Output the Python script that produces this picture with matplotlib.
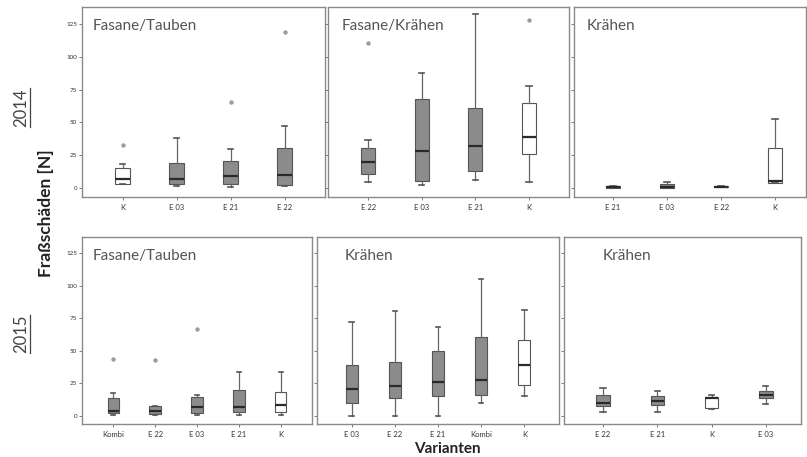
import matplotlib.pyplot as plt
from matplotlib.lines import Line2D

plt.rcParams['font.family'] = ['Lato', 'DejaVu Sans']

# 2014 - Fasane/Tauben
lab_14a = ['K', 'E 03', 'E 21', 'E 22']
lo_14a = [3.3, 1.5, 0.3, 1.5]
q1_14a = [3.3, 3.3, 2.8, 2.0]
med_14a = [7.0, 6.6, 8.9, 9.7]
q3_14a = [15.3, 18.6, 20.4, 30.6]
hi_14a = [17.9, 37.8, 29.6, 47.2]
out_14a = [[32.7], [], [65.3], [118.6]]

# 2014 - Fasane/Krähen
lab_14b = ['E 22', 'E 03', 'E 21', 'K']
lo_14b = [4.1, 2.3, 6.1, 4.1]
q1_14b = [10.5, 5.4, 12.5, 25.5]
med_14b = [19.4, 28.3, 32.1, 38.8]
q3_14b = [30.4, 67.6, 60.7, 64.5]
hi_14b = [36.5, 87.5, 132.4, 78.0]
out_14b = [[110.5], [], [], [128.3]]

# 2014 - Krähen
lab_14c = ['E 21', 'E 03', 'E 22', 'K']
lo_14c = [0.0, 0.0, 0.3, 3.6]
q1_14c = [0.2, 0.0, 0.5, 3.6]
med_14c = [0.7, 1.0, 0.9, 5.4]
q3_14c = [1.2, 2.7, 1.4, 30.6]
hi_14c = [1.4, 4.2, 1.6, 52.5]
out_14c = [[], [], [], []]

# 2015 - Fasane/Tauben
lab_15a = ['Kombi', 'E 22', 'E 03', 'E 21', 'K']
lo_15a = [0.8, 0.8, 0.8, 0.5, 0.8]
q1_15a = [1.8, 1.3, 2.0, 3.1, 2.6]
med_15a = [3.3, 3.3, 6.9, 6.4, 8.2]
q3_15a = [13.5, 7.1, 14.5, 19.6, 17.9]
hi_15a = [17.0, 7.7, 16.0, 33.2, 33.2]
out_15a = [[43.4], [42.6], [66.8], [], []]

# 2015 - Krähen
lab_15b = ['E 03', 'E 22', 'E 21', 'Kombi', 'K']
lo_15b = [0.0, 0.0, 0.0, 9.7, 14.9]
q1_15b = [9.5, 13.3, 14.9, 16.2, 23.6]
med_15b = [20.5, 23.1, 25.6, 27.7, 39.0]
q3_15b = [39.2, 41.5, 50.0, 60.8, 58.2]
hi_15b = [72.3, 80.8, 67.9, 105.0, 81.5]
out_15b = [[], [], [], [], []]

# 2015 - Krähen
lab_15c = ['E 22', 'E 21', 'K', 'E 03']
lo_15c = [2.6, 2.6, 5.1, 8.9]
q1_15c = [7.1, 8.4, 5.9, 13.5]
med_15c = [9.7, 11.5, 13.8, 16.0]
q3_15c = [15.8, 15.3, 14.0, 18.6]
hi_15c = [20.9, 18.6, 15.8, 23.0]
out_15c = [[], [], [], []]

panels = [
    ('Fasane/Tauben', lab_14a, lo_14a, q1_14a, med_14a, q3_14a, hi_14a, out_14a),
    ('Fasane/Krähen', lab_14b, lo_14b, q1_14b, med_14b, q3_14b, hi_14b, out_14b),
    ('Krähen', lab_14c, lo_14c, q1_14c, med_14c, q3_14c, hi_14c, out_14c),
    ('Fasane/Tauben', lab_15a, lo_15a, q1_15a, med_15a, q3_15a, hi_15a, out_15a),
    ('Krähen', lab_15b, lo_15b, q1_15b, med_15b, q3_15b, hi_15b, out_15b),
    ('Krähen', lab_15c, lo_15c, q1_15c, med_15c, q3_15c, hi_15c, out_15c),
]

W, H = 807, 457
fig = plt.figure(figsize=(W / 100, H / 100), dpi=100)

# panel frames in pixels: left, top, right, bottom
boxes_px = [
    (82, 7, 325, 197), (328, 7, 569, 197), (574, 7, 806, 197),
    (82, 237, 312, 424), (317, 237, 559, 424), (564, 237, 801, 424),
]
title_x = [0.045, 0.055, 0.055, 0.045, 0.115, 0.165]
xlims = [(0.25, 4.75), (0.25, 4.75), (0.28, 4.57),
         (0.25, 5.75), (0.2, 5.8), (0.28, 4.65)]
widths = [0.26, 0.26, 0.26, 0.28, 0.28, 0.25]

for i, (title, lab, lo, q1, med, q3, hi, out) in enumerate(panels):
    l, t, r, b = boxes_px[i]
    ax = fig.add_axes([l / W, 1 - b / H, (r - l) / W, (b - t) / H])
    stats = []
    for j in range(len(lab)):
        stats.append(dict(label=lab[j], whislo=lo[j], q1=q1[j], med=med[j],
                          q3=q3[j], whishi=hi[j], fliers=out[j]))
    bp = ax.bxp(stats, widths=widths[i], capwidths=0.1, patch_artist=True,
                boxprops=dict(edgecolor='#555555', linewidth=0.8),
                whiskerprops=dict(color='#666666', linewidth=0.9),
                capprops=dict(color='#555555', linewidth=1.2),
                medianprops=dict(color='#2a2a2a', linewidth=1.6),
                flierprops=dict(marker='o', markersize=2.5, markerfacecolor='#a0a0a0',
                                markeredgecolor='#8a8a8a', markeredgewidth=0.5))
    for j, patch in enumerate(bp['boxes']):
        patch.set_facecolor('white' if lab[j] == 'K' else '#8c8c8c')
    ax.set_xlim(*xlims[i])
    if i < 3:
        ax.set_ylim(-7, 138)
    else:
        ax.set_ylim(-6.5, 137.5)
    ax.set_yticks([0, 25, 50, 75, 100, 125])
    ax.tick_params(axis='both', length=2, width=0.6, color='#666666',
                   labelcolor='#333333', pad=1.5)
    ax.tick_params(axis='x', labelsize=5.5, pad=3)
    ax.tick_params(axis='y', labelsize=4.5)
    if i not in (0, 3):
        ax.set_yticklabels([])
    for s in ax.spines.values():
        s.set_color('#8a8a8a')
        s.set_linewidth(1.0)
    ax.text(title_x[i], 0.9, title, transform=ax.transAxes, fontsize=11,
            color='#555555', ha='left', va='center')

fig.text(46 / W, 1 - 213 / H, 'Fraßschäden [N]', rotation=90, fontsize=12.5,
         fontweight='bold', ha='center', va='center', color='#222222')
fig.text(447 / W, 1 - 449 / H, 'Varianten', fontsize=11, fontweight='bold',
         ha='center', va='center', color='#222222')
fig.text(21 / W, 1 - 108 / H, '2014', rotation=90, fontsize=12,
         ha='center', va='center', color='#444444')
fig.text(21 / W, 1 - 334 / H, '2015', rotation=90, fontsize=12,
         ha='center', va='center', color='#444444')
fig.add_artist(Line2D([30 / W, 30 / W], [1 - 127 / H, 1 - 88 / H], color='#444444', lw=0.9))
fig.add_artist(Line2D([30 / W, 30 / W], [1 - 353 / H, 1 - 315 / H], color='#444444', lw=0.9))

fig.savefig('out.png', dpi=100)
